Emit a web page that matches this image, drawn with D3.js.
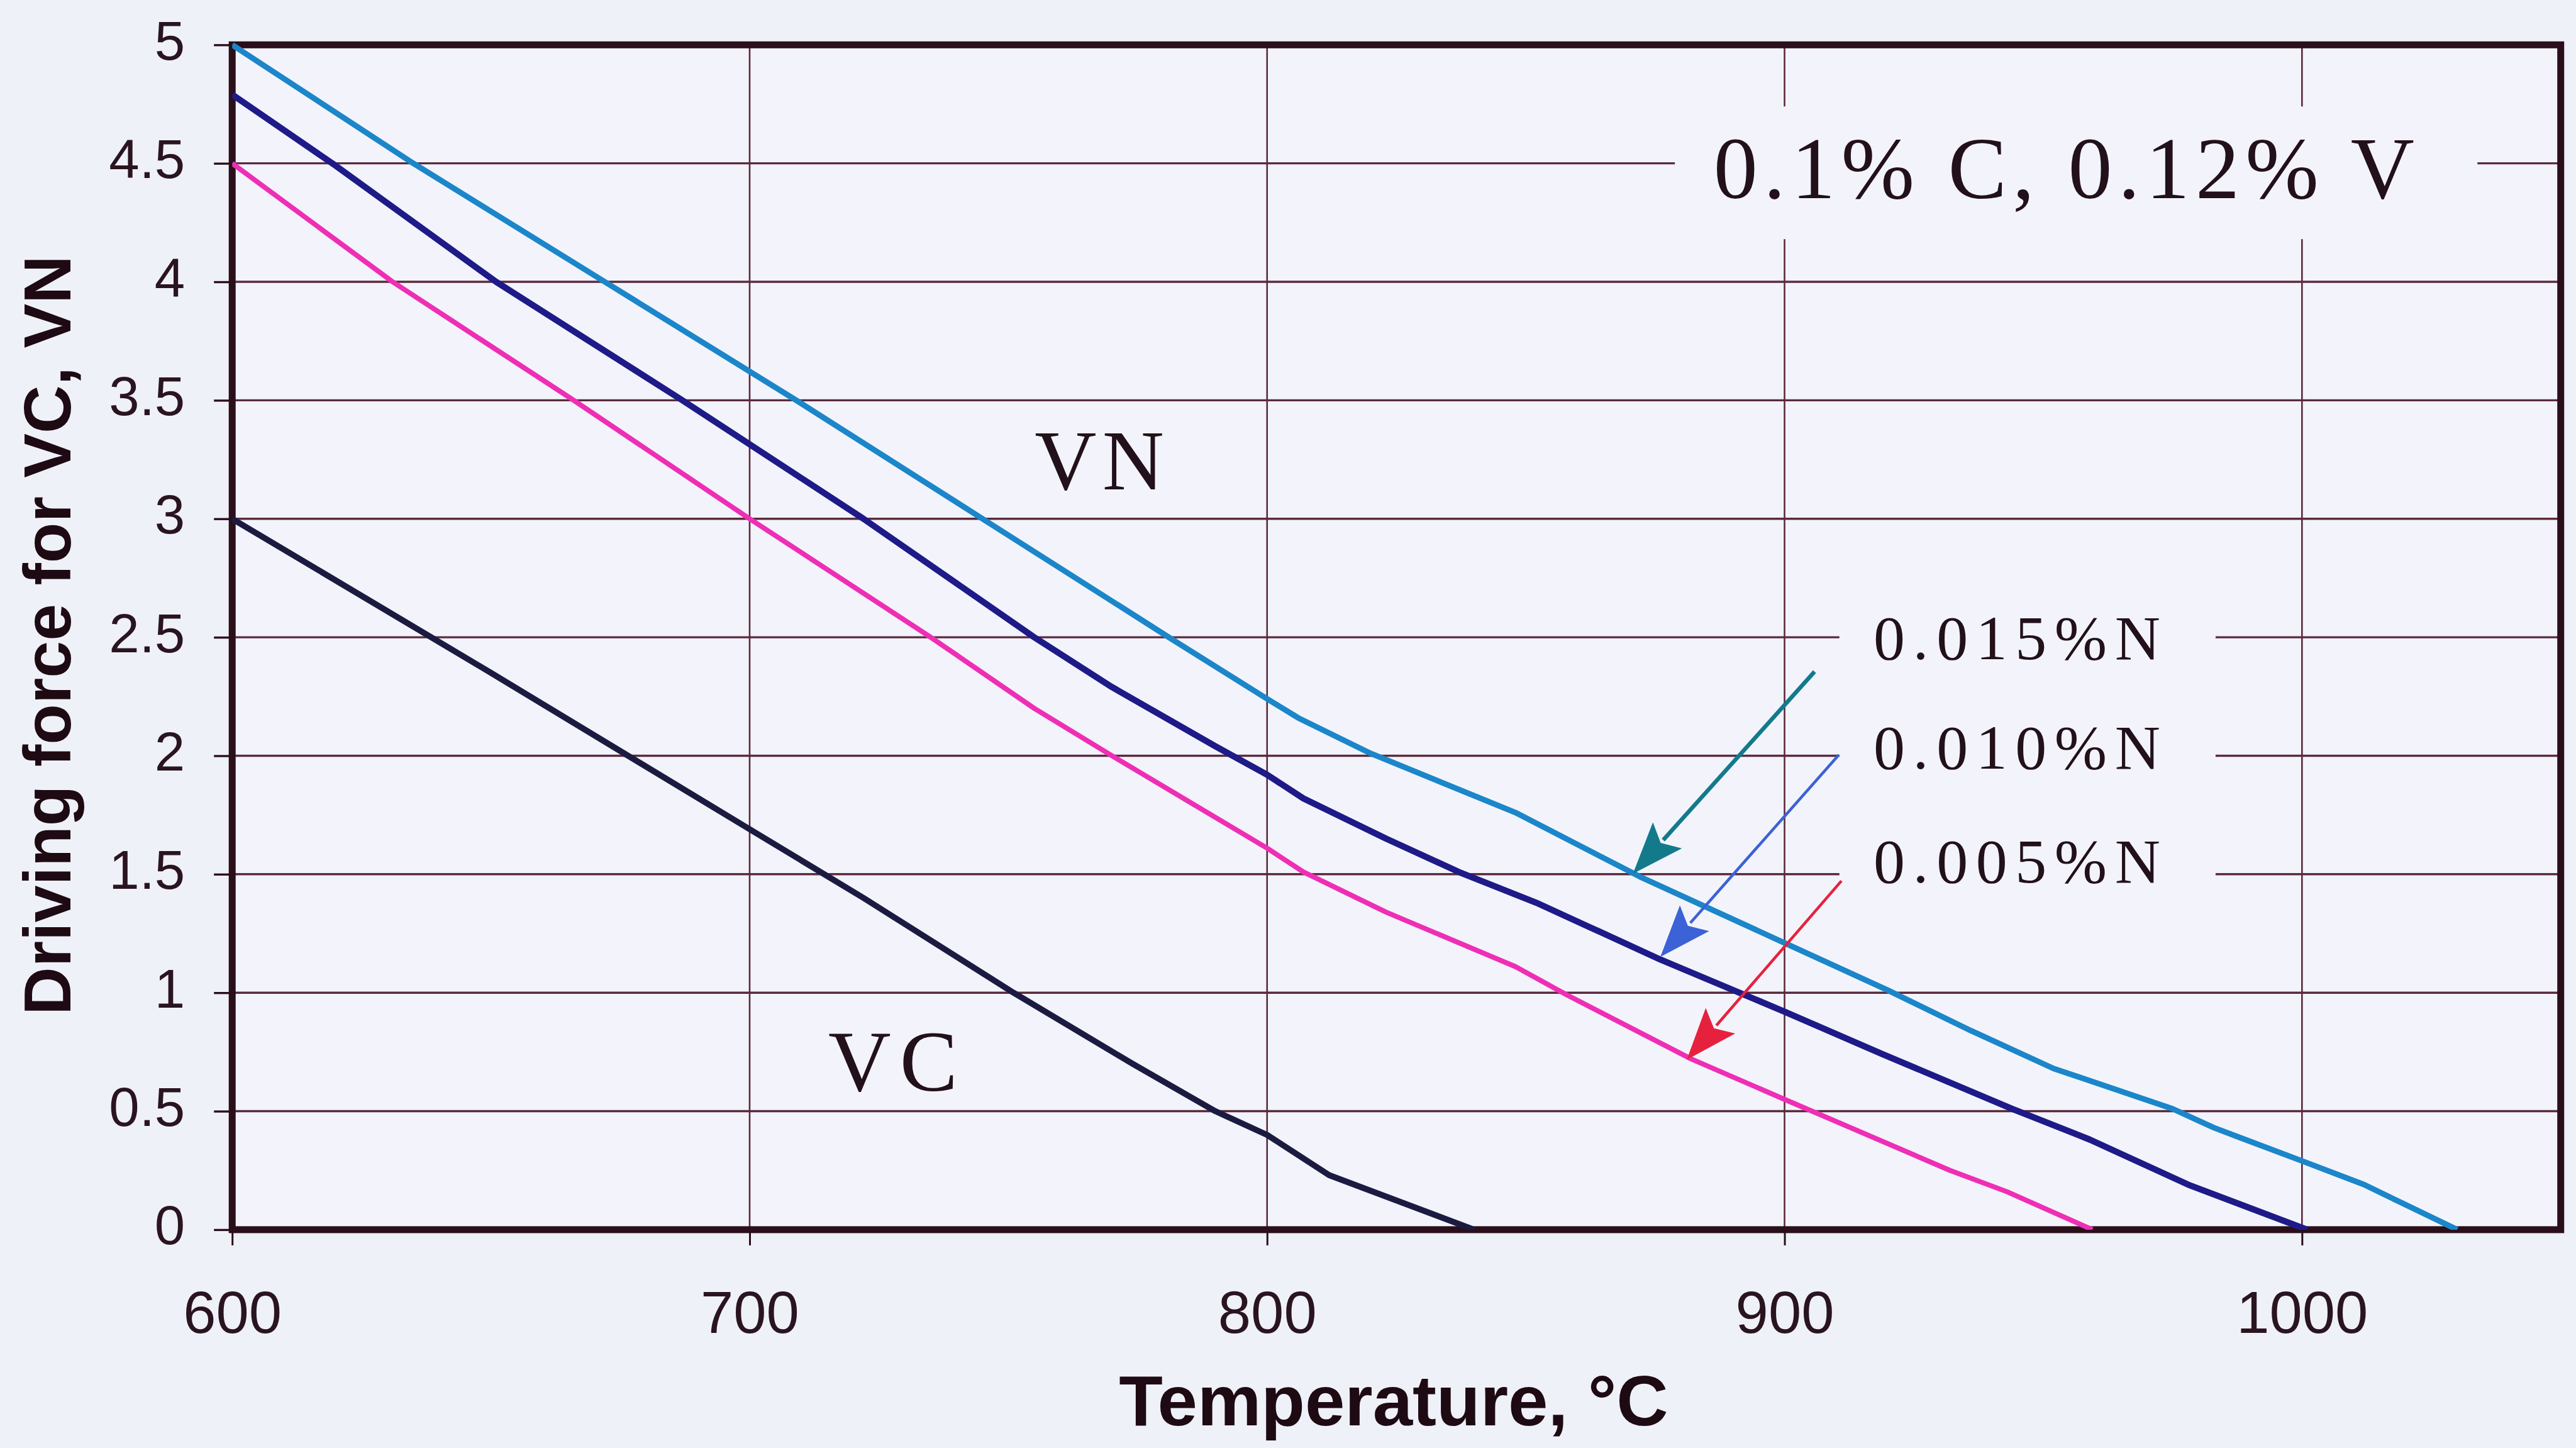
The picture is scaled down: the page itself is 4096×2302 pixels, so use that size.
<!DOCTYPE html>
<html>
<head>
<meta charset="utf-8">
<script src="https://cdn.jsdelivr.net/npm/d3@7"></script>
<style>
html,body{margin:0;padding:0;background:#eff1f9;}
svg{display:block;}
</style>
</head>
<body>
<svg id="chart" width="4096" height="2302"></svg>
<script>
// ---------------- data ----------------
const xTickValues = [600, 700, 800, 900, 1000];
const xTickLabels = ["600", "700", "800", "900", "1000"];
const yTickValues = [0, 0.5, 1, 1.5, 2, 2.5, 3, 3.5, 4, 4.5, 5];
const yTickLabels = ["0", "0.5", "1", "1.5", "2", "2.5", "3", "3.5", "4", "4.5", "5"];

// VN, 0.015 % N  [temperature °C, driving force]
const vn015 = [[600,5.0],[635,4.5],[672,4.0],[709,3.5],[745,3.0],[781,2.5],[800,2.24],[806,2.16],
  [820,2.01],[848,1.76],[872,1.49],[900,1.21],[920,1.01],[936,0.84],[952,0.68],[975,0.51],
  [983,0.43],[1000,0.29],[1012,0.19],[1030,0]];
// VN, 0.010 % N
const vn010 = [[600,4.79],[620,4.49],[651,4.0],[687,3.5],[722,3.0],[755,2.5],[770,2.29],[790,2.04],
  [800,1.92],[807,1.82],[823,1.65],[837,1.51],[852,1.38],[862,1.28],[876,1.14],[900,0.92],
  [919,0.74],[944,0.51],[959,0.38],[978,0.19],[1001,0]];
// VN, 0.005 % N
const vn005 = [[600,4.5],[631,4.0],[666,3.5],[700,3.0],[735,2.5],[755,2.2],[770,2.0],[800,1.61],
  [807,1.51],[823,1.34],[848,1.11],[858,0.99],[882,0.72],[900,0.55],[932,0.25],[943,0.16],[959.5,0]];
// VC
const vc = [[600,3.0],[650,2.35],[700,1.69],[722,1.40],[751,1.0],[774,0.70],[790,0.5],[800,0.40],
  [812,0.23],[840,0]];

const seriesNames = ["0.015%N", "0.010%N", "0.005%N"];
const seriesColors = ["#1b86c9", "#1e1a88", "#ee2fb6"];
const vcColor = "#1b1b42";
const arrowColors = ["#137a8c", "#3b62d6", "#e6213e"];
// arrows: [fromT, fromV, toT, toV]
const arrows = [[905.8,2.355,870.7,1.502],[910.5,2.004,876.0,1.151],[911.0,1.472,881.1,0.717]];

// ---------------- layout ----------------
const svg = d3.select("#chart");
const L = 369.2, R = 4071.7, T = 71.3, B = 1954.9;
const x = d3.scaleLinear().domain([600, 1050]).range([L, R]);
const y = d3.scaleLinear().domain([0, 5]).range([B, T]);
const ink = "#2a0f1a";
const gridCol = "#5b2a3c";

svg.append("rect").attr("width",4096).attr("height",2302).attr("fill","#eff1f9");
svg.append("rect").attr("x",L).attr("y",T).attr("width",R-L).attr("height",B-T).attr("fill","#f3f4fb");

// grid
const g = svg.append("g");
g.selectAll("line.hg").data(yTickValues.slice(1, -1)).join("line")
  .attr("x1", L).attr("x2", R).attr("y1", d => y(d)).attr("y2", d => y(d))
  .attr("stroke", gridCol).attr("stroke-width", 3.4);
g.selectAll("line.vg").data(xTickValues.slice(1)).join("line")
  .attr("x1", d => x(d)).attr("x2", d => x(d)).attr("y1", T).attr("y2", B)
  .attr("stroke", gridCol).attr("stroke-width", 2.6);

// axes (outward ticks)
const yAxis = d3.axisLeft(y).tickValues(yTickValues).tickFormat((d,i) => yTickLabels[i]).tickSize(29).tickPadding(46);
const ya = svg.append("g").attr("transform", `translate(${L},0)`).call(yAxis);
ya.select(".domain").remove();
ya.selectAll(".tick line").attr("stroke", ink).attr("stroke-width", 3.4);
ya.selectAll(".tick text").attr("font-family","Liberation Sans, Arial, sans-serif").attr("font-size", 87)
  .attr("fill", "#2a1420").attr("dy", null).attr("y", 23);

const xAxis = d3.axisBottom(x).tickValues(xTickValues).tickFormat((d,i) => xTickLabels[i]).tickSize(25).tickPadding(0);
const xa = svg.append("g").attr("transform", `translate(0,${B})`).call(xAxis);
xa.select(".domain").remove();
xa.selectAll(".tick line").attr("stroke", ink).attr("stroke-width", 3);
xa.selectAll(".tick text").attr("font-family","Liberation Sans, Arial, sans-serif").attr("font-size", 94)
  .attr("fill", "#2a1420").attr("dy", null).attr("y", 164);

// frame
svg.append("rect").attr("x", L).attr("y", T).attr("width", R-L).attr("height", B-T)
  .attr("fill", "none").attr("stroke", ink).attr("stroke-width", 11);

// annotation boxes (knock out grid)
const bg = "#f3f4fb";
svg.append("rect").attr("x", x(878.8)).attr("y", y(4.74)).attr("width", x(1033.9)-x(878.8)).attr("height", y(4.18)-y(4.74)).attr("fill", bg);
svg.append("rect").attr("x", x(910.6)).attr("y", y(2.62)).attr("width", x(983.3)-x(910.6)).attr("height", y(1.36)-y(2.62)).attr("fill", bg);

// lines
const line = d3.line().x(d => x(d[0])).y(d => y(d[1]));
svg.append("clipPath").attr("id","clip").append("rect").attr("x",L).attr("y",T-6).attr("width",R-L).attr("height",B-T+6);
const lines = svg.append("g").attr("clip-path","url(#clip)");
lines.append("path").datum(vc).attr("d", line).attr("fill","none").attr("stroke", vcColor).attr("stroke-width", 9.5).attr("stroke-linejoin","round");
lines.append("path").datum(vn005).attr("d", line).attr("fill","none").attr("stroke", seriesColors[2]).attr("stroke-width", 8).attr("stroke-linejoin","round");
lines.append("path").datum(vn010).attr("d", line).attr("fill","none").attr("stroke", seriesColors[1]).attr("stroke-width", 10).attr("stroke-linejoin","round");
lines.append("path").datum(vn015).attr("d", line).attr("fill","none").attr("stroke", seriesColors[0]).attr("stroke-width", 9).attr("stroke-linejoin","round");

// arrows
arrows.forEach((a, i) => {
  const x1 = x(a[0]), y1 = y(a[1]), x2 = x(a[2]), y2 = y(a[3]);
  const dx = x2 - x1, dy = y2 - y1, len = Math.hypot(dx, dy);
  const ux = dx/len, uy = dy/len, hl = 82, hw = 31;
  const bx = x2 - ux*hl, by = y2 - uy*hl;
  svg.append("line").attr("x1", x1).attr("y1", y1).attr("x2", bx + ux*10).attr("y2", by + uy*10)
    .attr("stroke", arrowColors[i]).attr("stroke-width", i === 0 ? 6.5 : 4.5);
  svg.append("polygon").attr("points", [[x2,y2],[bx - uy*hw, by + ux*hw],[bx + ux*16, by + uy*16],[bx + uy*hw, by - ux*hw]].map(p => p.join(",")).join(" "))
    .attr("fill", arrowColors[i]);
});

// texts
const serif = "Liberation Serif, Times New Roman, serif";
function label(txt, t0, t1, v, size) {
  svg.append("text").attr("x", x(t0)).attr("y", y(v)).attr("font-family", serif).attr("font-size", size)
    .attr("fill", "#22101a").attr("textLength", x(t1) - x(t0)).attr("lengthAdjust", "spacing").text(txt);
}
label("0.1% C, 0.12% V", 886.3, 1021.7, 4.352, 140);
label(seriesNames[0], 917.2, 972.6, 2.407, 100);
label(seriesNames[1], 917.2, 972.6, 1.946, 100);
label(seriesNames[2], 917.2, 972.6, 1.465, 100);
label("VN", 755.1, 780.1, 3.124, 136);
label("VC", 715.2, 740.2, 0.586, 138);

// axis titles
svg.append("text").attr("x", 2216).attr("y", 2266).attr("text-anchor","middle")
  .attr("font-family","Liberation Sans, Arial, sans-serif").attr("font-weight","bold").attr("font-size", 114)
  .attr("fill", "#1e0a12").text("Temperature, °C");
svg.append("text").attr("transform","translate(112,1010) rotate(-90)").attr("text-anchor","middle")
  .attr("font-family","Liberation Sans, Arial, sans-serif").attr("font-weight","bold").attr("font-size", 106)
  .attr("fill", "#1e0a12").text("Driving force for VC, VN");
</script>
</body>
</html>
